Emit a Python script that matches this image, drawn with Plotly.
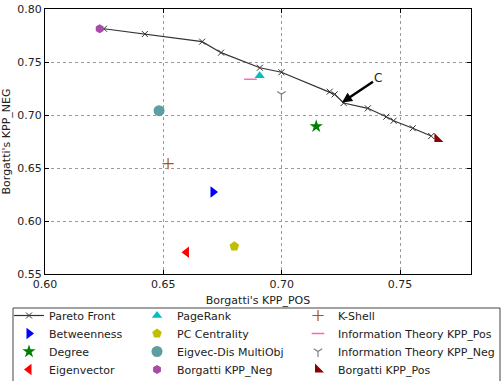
import plotly.graph_objects as go

# ---- data ----
pareto_pos = [0.6249, 0.6422, 0.6664, 0.6744, 0.6908, 0.6999, 0.7203, 0.7224, 0.7262, 0.7364, 0.7442, 0.7473, 0.7554, 0.7632]
pareto_neg = [0.7814, 0.7764, 0.7692, 0.7588, 0.7446, 0.7403, 0.7220, 0.7195, 0.7113, 0.7063, 0.6984, 0.6946, 0.6875, 0.6802]

methods = ["Betweenness", "Degree", "Eigenvector", "PageRank", "PC Centrality",
           "Eigvec-Dis MultiObj", "Borgatti KPP_Neg", "K-Shell",
           "Information Theory KPP_Pos", "Information Theory KPP_Neg", "Borgatti KPP_Pos"]
method_pos = [0.6710, 0.7146, 0.6598, 0.6907, 0.6800, 0.6482, 0.6231, 0.6520, 0.6868, 0.6999, 0.7658]
method_neg = [0.6274, 0.6893, 0.5705, 0.7370, 0.5761, 0.7041, 0.7814, 0.6541, 0.7337, 0.7195, 0.6774]

x_ticks = [0.60, 0.65, 0.70, 0.75]
y_ticks = [0.55, 0.60, 0.65, 0.70, 0.75, 0.80]

# ---- styles ----
styles = {
    "Betweenness": dict(symbol="triangle-right", color="#0000ff", size=10),
    "Degree": dict(symbol="star", color="#008000", size=10),
    "Eigenvector": dict(symbol="triangle-left", color="#ff0000", size=10),
    "PageRank": dict(symbol="triangle-up", color="#00bfbf", size=9),
    "PC Centrality": dict(symbol="pentagon", color="#bfbf00", size=10),
    "Eigvec-Dis MultiObj": dict(symbol="circle", color="#5f9ea0", size=11),
    "Borgatti KPP_Neg": dict(symbol="hexagon", color="#a64ca6", size=9),
    "K-Shell": dict(symbol="cross-thin-open", color="#a0522d", size=8, lw=1.2),
    "Information Theory KPP_Pos": dict(symbol="line-ew-open", color="#ff69b4", size=9, lw=1.5),
    "Information Theory KPP_Neg": dict(symbol="y-down-open", color="#808080", size=7, lw=1.2),
    "Borgatti KPP_Pos": dict(symbol="triangle-sw", color="#8b0000", size=10),
}
# legend layout (column, row) as in the reference (3 columns, filled column-wise)
legend_order = ["Pareto Front", "Betweenness", "Degree", "Eigenvector",
                "PageRank", "PC Centrality", "Eigvec-Dis MultiObj", "Borgatti KPP_Neg",
                "K-Shell", "Information Theory KPP_Pos", "Information Theory KPP_Neg", "Borgatti KPP_Pos"]
legend_id = {n: f"legend{i+2}" for i, n in enumerate(legend_order)}

fig = go.Figure()
fig.add_trace(go.Scatter(
    x=pareto_pos, y=pareto_neg, mode="lines+markers", name="Pareto Front",
    line=dict(color="#333333", width=1.2),
    marker=dict(symbol="x-thin-open", size=6, line=dict(color="#333333", width=1)),
    legend=legend_id["Pareto Front"], showlegend=True,
))
for name, px_, py_ in zip(methods, method_pos, method_neg):
    s = styles[name]
    marker = dict(symbol=s["symbol"], size=s["size"], color=s["color"])
    if s["symbol"].endswith("open"):
        marker["line"] = dict(color=s["color"], width=s.get("lw", 1))
    else:
        marker["line"] = dict(width=0)
    fig.add_trace(go.Scatter(x=[px_], y=[py_], mode="markers", name=name,
                             marker=marker, legend=legend_id[name], showlegend=True))

font = dict(family="DejaVu Sans", size=11, color="#222222")
W, H = 504, 381
ml, mr, mt, mb = 45, 33, 9, 107
pw, ph = W - ml - mr, H - mt - mb


def px2paper_x(p):
    return (p - ml) / pw


def px2paper_y(p):
    return (H - mb - p) / ph


col_x = [9, 137, 298]
row_y = [316, 334, 352, 370]
leg_offset = 15

legends = {}
for i, n in enumerate(legend_order):
    c, r = divmod(i, 4)
    legends[legend_id[n]] = dict(
        font=font, bgcolor="rgba(0,0,0,0)", borderwidth=0,
        xanchor="left", yanchor="top", orientation="v",
        xref="paper", yref="paper", visible=True,
        x=px2paper_x(col_x[c]), y=px2paper_y(row_y[r] - leg_offset))

fig.update_layout(
    width=W, height=H, showlegend=True,
    margin=dict(l=ml, r=mr, t=mt, b=mb, autoexpand=False),
    paper_bgcolor="white", plot_bgcolor="white",
    font=font,
    xaxis=dict(range=[0.60, 0.78], tickvals=x_ticks, tickformat=".2f",
               showline=True, linecolor="black", linewidth=1, mirror="ticks",
               ticks="inside", ticklen=4, tickcolor="black",
               showgrid=True, gridcolor="#9a9a9a", griddash="dot", gridwidth=1,
               zeroline=False, title=dict(text="Borgatti's KPP_POS", standoff=6, font=font)),
    yaxis=dict(range=[0.55, 0.80], tickvals=y_ticks, tickformat=".2f",
               showline=True, linecolor="black", linewidth=1, mirror="ticks",
               ticks="inside", ticklen=4, tickcolor="black",
               showgrid=True, gridcolor="#9a9a9a", griddash="dot", gridwidth=1,
               zeroline=False, title=dict(text="Borgatti's KPP_NEG", standoff=4, font=font)),
    shapes=[dict(type="rect", xref="paper", yref="paper",
                 x0=px2paper_x(13), x1=px2paper_x(500),
                 y0=px2paper_y(395), y1=px2paper_y(308),
                 line=dict(color="#444444", width=1), fillcolor="rgba(0,0,0,0)", layer="below")],
    annotations=[dict(x=0.7255, y=0.7118, xref="x", yref="y",
                      ax=0.7409, ay=0.7349, axref="x", ayref="y",
                      text="C", showarrow=True, arrowhead=2, arrowsize=0.8,
                      arrowwidth=2.5, arrowcolor="black", standoff=0,
                      font=dict(family="DejaVu Sans", size=12, color="#222222"))],
    **legends,
)

fig.write_html("out.html")
